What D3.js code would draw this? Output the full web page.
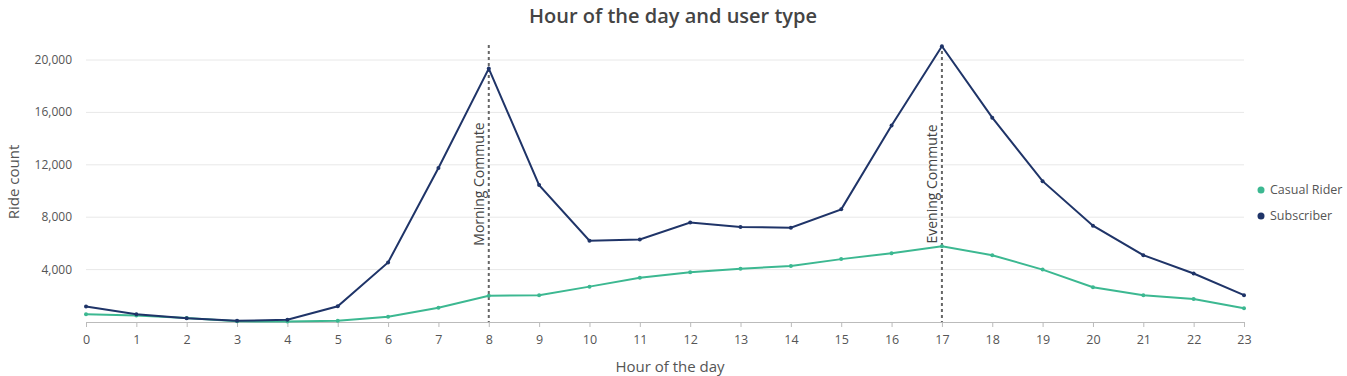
<!doctype html>
<html>
  <head>
    <script src="https://cdn.jsdelivr.net/npm/d3@7"></script>
    <style>
      body { margin: 0; background: #fff; }
      text { font-family: "Open Sans", "Noto Sans", sans-serif; }
    </style>
  </head>
  <body>
    <svg width="1347" height="376"></svg>

    <script type="text/javascript">

        var hours = d3.range(0, 24);
        var casual = [600, 500, 300, 50, 30, 100, 400, 1090, 2000, 2050, 2700, 3380,
                      3800, 4070, 4280, 4800, 5250, 5780, 5100, 4000, 2650, 2050, 1750, 1050];
        var subscriber = [1180, 600, 290, 90, 180, 1200, 4550, 11750, 19350, 10450, 6200, 6300,
                          7600, 7250, 7200, 8600, 15000, 21050, 15600, 10750, 7350, 5100, 3700, 2050];
        var yTicks = [4000, 8000, 12000, 16000, 20000];
        var annotations = [[8, "Morning Commute"], [17, "Evening Commute"]];
        var seriesNames = ["Casual Rider", "Subscriber"];
        var colors = ["#3cb891", "#1f3468"];

        var svg = d3.select("svg");

        var x = d3.scaleLinear().domain([0, 23]).range([86, 1244]);
        var y = d3.scaleLinear().domain([0, 22000]).range([322, 33.8]);

        // title
        svg.append("text")
            .attr("x", 673).attr("y", 23)
            .attr("text-anchor", "middle")
            .attr("font-size", 20).attr("font-weight", 600)
            .attr("fill", "#444")
            .text("Hour of the day and user type");

        // grid
        svg.append("g").selectAll("line")
            .data(yTicks).join("line")
            .attr("x1", 86).attr("x2", 1244)
            .attr("y1", d => y(d)).attr("y2", d => y(d))
            .attr("stroke", "#e8e8e8");

        // y labels
        svg.append("g").selectAll("text")
            .data(yTicks).join("text")
            .attr("x", 72).attr("y", d => y(d) + 4)
            .attr("text-anchor", "end")
            .attr("font-size", 12).attr("fill", "#555")
            .text(d => d3.format(",")(d));

        // x axis
        var xAxis = svg.append("g")
            .attr("transform", "translate(0,322)")
            .call(d3.axisBottom(x).tickValues(hours).tickSize(5).tickPadding(8).tickFormat(d3.format("d")));
        xAxis.select(".domain").attr("stroke", "#bbb");
        xAxis.selectAll(".tick line").attr("stroke", "#bbb");
        xAxis.selectAll(".tick text")
            .attr("font-size", 12.5).attr("fill", "#555")
            .attr("font-family", "'Open Sans', 'Noto Sans', sans-serif");

        // axis titles
        svg.append("text")
            .attr("x", 670).attr("y", 372)
            .attr("text-anchor", "middle")
            .attr("font-size", 15).attr("fill", "#555")
            .text("Hour of the day");
        svg.append("text")
            .attr("transform", "translate(19,182) rotate(-90)")
            .attr("text-anchor", "middle")
            .attr("font-size", 15).attr("fill", "#555")
            .text("Ride count");

        // annotations
        var ann = svg.append("g").selectAll("g")
            .data(annotations).join("g");
        ann.append("line")
            .attr("x1", d => x(d[0])).attr("x2", d => x(d[0]))
            .attr("y1", 45).attr("y2", 322)
            .attr("stroke", "#666").attr("stroke-width", 2)
            .attr("stroke-dasharray", "3,3");
        ann.append("text")
            .attr("transform", d => `translate(${x(d[0]) - 5},184) rotate(-90)`)
            .attr("text-anchor", "middle")
            .attr("font-size", 14).attr("fill", "#444")
            .text(d => d[1]);

        // lines
        var line = d3.line().x((d, i) => x(hours[i])).y(d => y(d));
        [casual, subscriber].forEach(function(data, k) {
            svg.append("path")
                .datum(data)
                .attr("d", line)
                .attr("fill", "none")
                .attr("stroke", colors[k])
                .attr("stroke-width", 2);
            svg.append("g").selectAll("circle")
                .data(data).join("circle")
                .attr("cx", (d, i) => x(hours[i])).attr("cy", d => y(d))
                .attr("r", 2)
                .attr("fill", colors[k]);
        });

        // legend
        var legend = svg.append("g").selectAll("g")
            .data(seriesNames).join("g")
            .attr("transform", (d, i) => `translate(1261,${190 + i * 26})`);
        legend.append("circle").attr("r", 3.5).attr("fill", (d, i) => colors[i]);
        legend.append("text")
            .attr("x", 9).attr("y", 4)
            .attr("font-size", 12.5).attr("fill", "#555")
            .text(d => d);

    </script>
  </body>
</html>
